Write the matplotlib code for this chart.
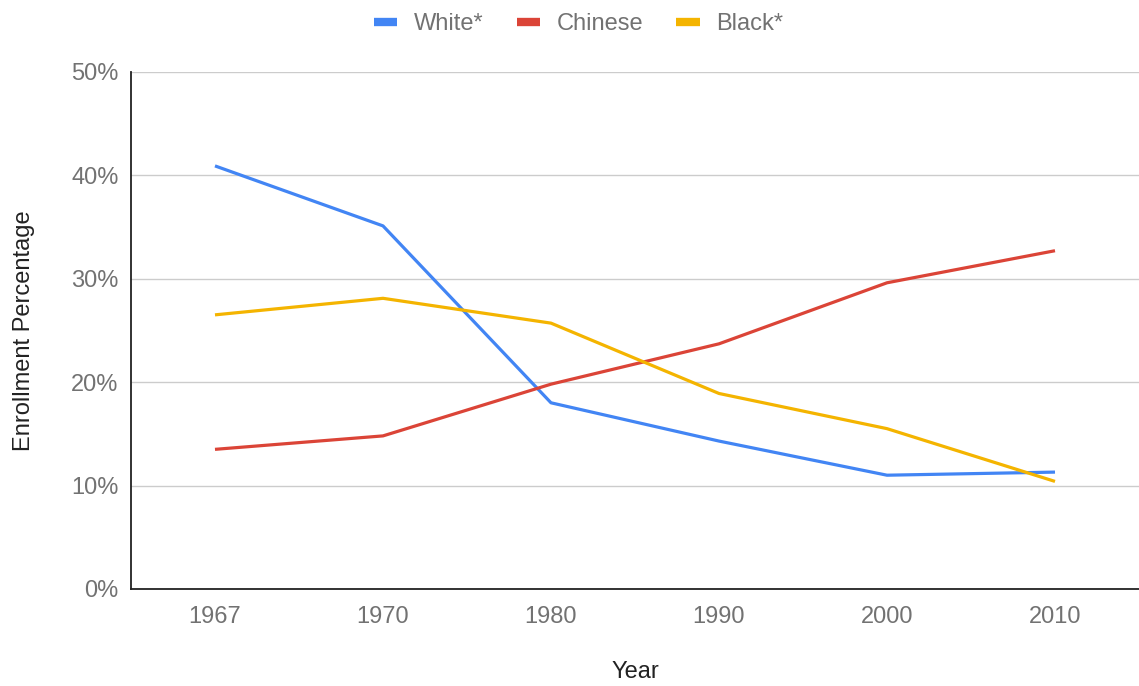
import matplotlib
matplotlib.use("Agg")
import matplotlib.pyplot as plt
from matplotlib.ticker import FuncFormatter

years = ["1967", "1970", "1980", "1990", "2000", "2010"]
white = [40.9, 35.1, 18.0, 14.3, 11.0, 11.3]
chinese = [13.5, 14.8, 19.8, 23.7, 29.6, 32.7]
black = [26.5, 28.1, 25.7, 18.9, 15.5, 10.4]

series = [("White*", white, "#4285F4"),
          ("Chinese", chinese, "#DB4437"),
          ("Black*", black, "#F4B400")]

plt.rcParams['font.family'] = ['Liberation Sans', 'DejaVu Sans']

fig = plt.figure(figsize=(11.39, 6.86), dpi=100)
ax = fig.add_axes([0.115, 0.1414, 0.885, 0.754])

x = range(len(years))
for name, vals, color in series:
    ax.plot(x, vals, color=color, linewidth=2.3, label=name, solid_capstyle="butt")

ax.set_xlim(-0.5, len(years) - 0.5)
ax.set_ylim(0, 50)
ax.set_xticks(list(x))
ax.set_xticklabels(years)
ax.set_yticks([0, 10, 20, 30, 40, 50])
ax.yaxis.set_major_formatter(FuncFormatter(lambda v, p: f"{int(v)}%"))
ax.tick_params(axis="both", length=0, labelsize=17, colors="#727272")
ax.tick_params(axis="x", pad=12)
ax.tick_params(axis="y", pad=9)
ax.grid(axis="y", color="#cccccc", linewidth=1)
ax.set_axisbelow(True)

for side in ["top", "right"]:
    ax.spines[side].set_visible(False)
for side in ["left", "bottom"]:
    ax.spines[side].set_color("#222222")
    ax.spines[side].set_linewidth(1.3)

ax.set_xlabel("Year", fontsize=17, color="#222222", labelpad=24)
ax.set_ylabel("Enrollment Percentage", fontsize=17, color="#222222", labelpad=26)

leg = fig.legend(loc="upper center", bbox_to_anchor=(0.508, 1.012), ncol=3, frameon=False,
                 fontsize=17, handlelength=1.0, handletextpad=0.7, columnspacing=1.4)
for t in leg.get_texts():
    t.set_color("#727272")
for h in leg.get_lines():
    h.set_linewidth(6)

fig.savefig("out.png", dpi=100)
